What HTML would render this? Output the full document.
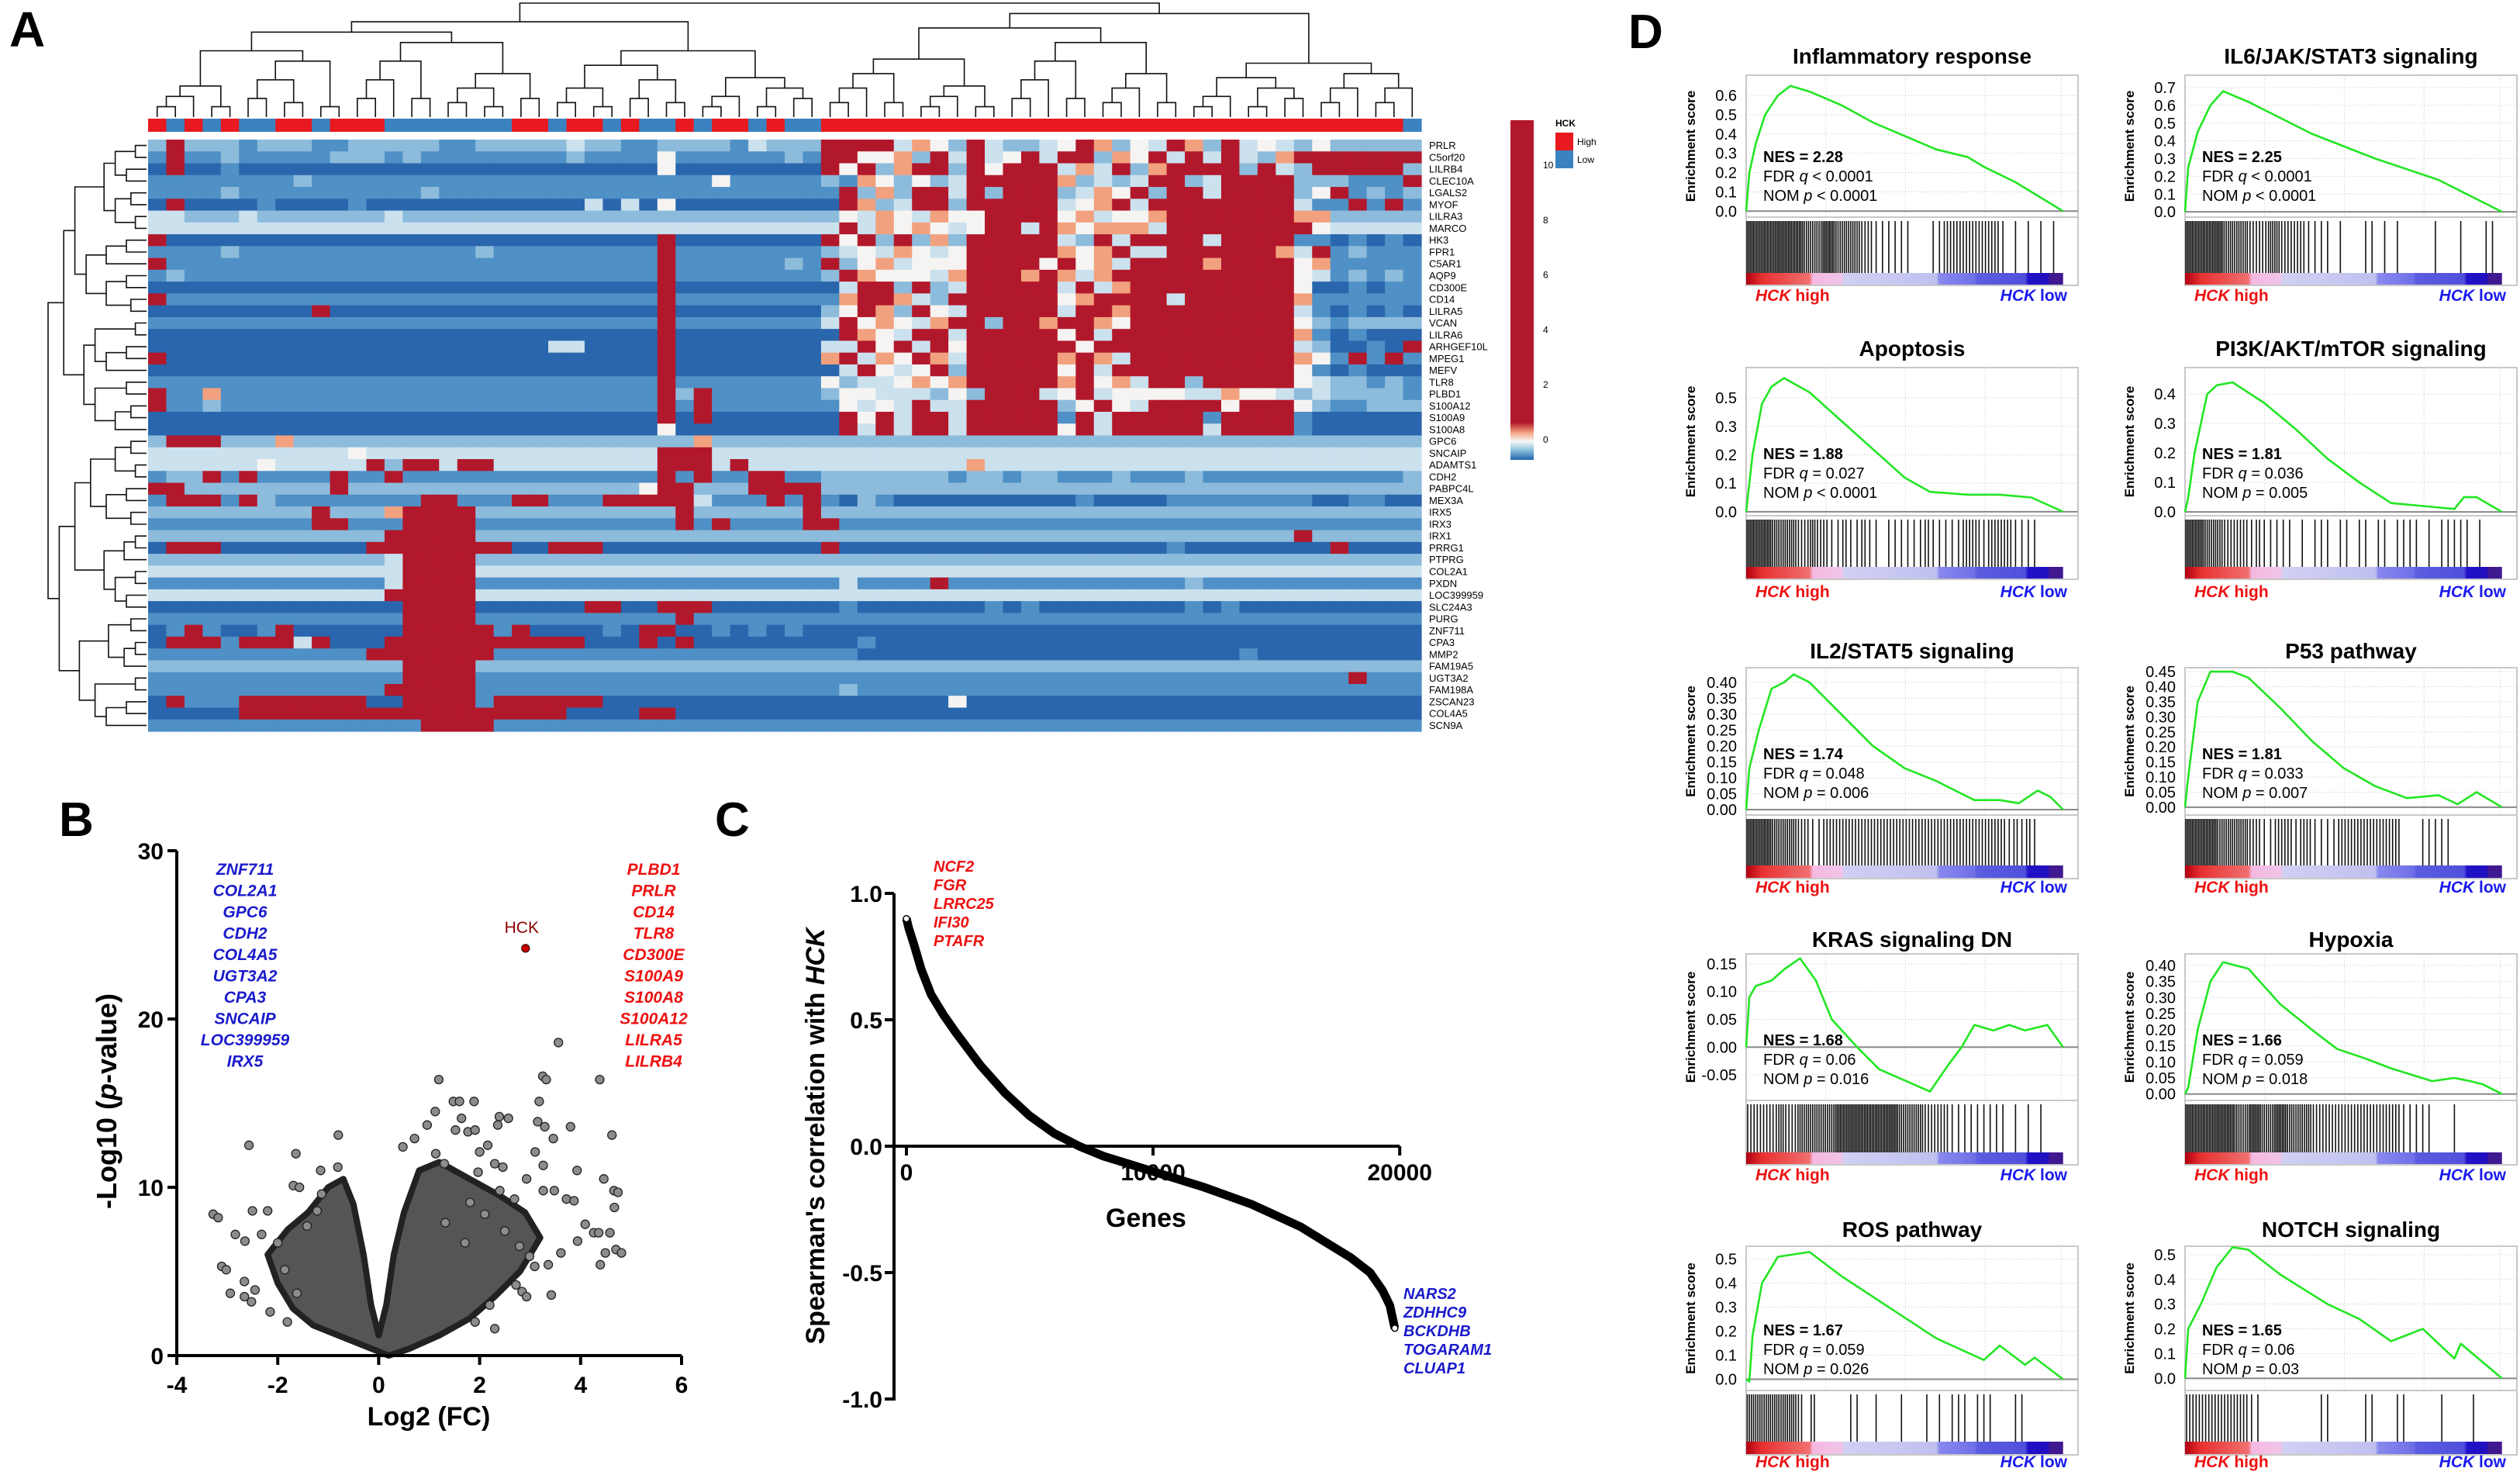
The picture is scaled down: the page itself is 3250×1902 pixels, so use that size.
<!DOCTYPE html>
<html><head><meta charset="utf-8"><title>HCK figure</title>
<style>
html,body{margin:0;padding:0;background:#fff;}
svg{display:block;font-family:"Liberation Sans",Arial,sans-serif;}
</style></head>
<body>
<svg id="fig" xmlns="http://www.w3.org/2000/svg" width="3250" height="1902" viewBox="0 0 3250 1902">
<rect x="0" y="0" width="3250" height="1902" fill="#fff"/>
<text x="12" y="60" font-size="64" font-weight="bold">A</text>
<text x="76" y="1078" font-size="62" font-weight="bold">B</text>
<text x="922" y="1078" font-size="62" font-weight="bold">C</text>
<text x="2100" y="62" font-size="62" font-weight="bold">D</text>
</svg>
<script>
// ================= PANEL A DATA =================
const geneRows = ["PRLR","C5orf20","LILRB4","CLEC10A","LGALS2","MYOF","LILRA3","MARCO","HK3","FPR1","C5AR1","AQP9","CD300E","CD14","LILRA5","VCAN","LILRA6","ARHGEF10L","MPEG1","MEFV","TLR8","PLBD1","S100A12","S100A9","S100A8","GPC6","SNCAIP","ADAMTS1","CDH2","PABPC4L","MEX3A","IRX5","IRX3","IRX1","PRRG1","PTPRG","COL2A1","PXDN","LOC399959","SLC24A3","PURG","ZNF711","CPA3","MMP2","FAM19A5","UGT3A2","FAM198A","ZSCAN23","COL4A5","SCN9A"];
const heatLeft = [
"2622212221122222112222232211222213222","1611211111222121111111121111411111121","0600100000000000000000000000400000000","1111111121111111111111111111111411111","1111211111111112111111111111111111111","0600001000010000000000003030400000000","3322232222222322222222222222222222222","3333333333333333333333333333333333333","6000000000000000000000000000600000000","1111211111111111112111111111611111111","6111111111111111111111111111611111121","1211111111111111111111111111611111111","0000000000000000000000000000600000000","6111111111111111111111111111611111111","0000000006000000000000000000600000000","1111111111111111111111111111611111111","0000000000000000000000000000600000000","0000000000000000000000330000600000000","6000000000000000000000000000600000000","0000000000000000000000000000600000000","1111111111111111111111111111611111111","6115111111111111111111111111626111111","6112111111111111111111111111616111111","0000000000000000000000000000606000000","0000000000000000000000000000400000000",
"2666222522222222222222222222225222222","3333333333343333333333333333666333333","3333334333336266366333333333666363333","1226161111611611111111111111616116611","6622222222622222222222222224662226666","1666162111111116611166111666663111616","2222222226222566662222222222262222226","1111111116611166661111111111161611116","2222222222222666662222222222222222222","0666000000006666666600666000000000000","2222222222222366662222222222222222222","3333333333333366663333333333333333333","1111111111111366661111111111111111111","3333333333333666663333333333333333333","0000000000000066660000006600666000000","1111111111111166661111111111161111111","0161001600000066666160000106600101010","0666166636000666666666660006060000000","1111111111116666666111111111111111111","2222222222222266662222222222222222222","1111111111111166661111111111111111111","1111111111111666661111111111111111111","0611166666660066661666666000000000000","0000066666666666666666600006600000000","1111111111111116666111111111111111111"];
const heatRight = [
"666635426322346524365263432422222","664452636346366254636363256666666","646256626466635362566662632666662","215424236666652323662366662221116","162526636266623546266366662461212","065236626666634563666666663116161","243543544666645344566666665522222","363545434663654555366666666433333","646262526666632636666366661101010","234354346666654563366666653612111","624534446666464536666566664511111","265444356665653566666666664312121","036626236666636356666666664001011","156653266666645666636666665111111","246526436666636656666666663101010","364543566266566546666666664212222","065436636666646366666666665101000","336463646666664666666666663200106","563546536666656536666666665416161","036434626666646366666666664101000","423345456666656453662666664322121","244333242666346344443354432322221","143436336666624643666646664211222","064636636666616366666166661000000","063636636666646366666366661000000",
"222222222222222222222222222222222","333333333333333333333333333333333","333333335333333333333333333333333","222222212212211121112111111111112","222222222222222222222222222222222","102100000000001000011111111001100","222222222222222222222222222222222","611111111111111111111111111111111","222222222222222222222222226222222","600000000000000000010000000060000","222222222222222222222222222222222","333333333333333333333333333333333","131111611111111111112111111111111","333333333333333333333333333333333","010000000101000000001010000000000","111111111111111111111111111111111","000000000000000000000000000000000","001000000000000000000000000000000","110000000000000000000001000000000","222222222222222222222222222222222","111111111111111111111111111116111","121111111111111111111111111111111","000000040000000000000000000000000","000000000000000000000000000000000","111111111111111111111111111111111"];
const sampleGroup = "rbrbrbbrrbrrrbbbbbbbrrbrrbrbbrbrrbrbb" + "rrrrrrrrrrrrrrrrrrrrrrrrrrrrrrrrb";
const colorbarTicks = [0,2,4,6,8,10];

// ================= PANEL B DATA =================
const volcanoFC = [2.91,3.56,3.25,3.32,4.38,1.19,1.48,1.6,1.89,3.18,1.12,2.39,2.57,1.64,0.96,3.15,3.29,2.36,1.52,1.77,1.91,3.8,4.62,3.46,-0.8,-2.57,-1.64,0.71,0.48,2.0,2.16,3.1,1.13,1.3,2.3,2.46,3.26,3.93,1.97,-1.15,-0.81,4.46,2.93,-1.69,-1.57,4.66,4.74,3.26,3.48,3.72,3.87,4.67,2.69,-3.28,-3.18,-2.5,-2.2,-2.84,-2.32,-2.65,4.09,4.26,4.36,4.58,3.94,4.7,4.81,4.49,4.39,3.61,3.36,3.42,-3.11,-3.02,-2.66,-2.45,-2.94,-2.66,-2.52,-2.15,2.3,2.72,2.84,2.93,1.91,2.2,2.79,2.99,3.09,2.5,1.71,1.32,2.1,1.81,2.4,-2.0,-1.86,-1.62,-1.81,-1.42,-1.22,-1.13];
const volcanoP = [24.2,18.6,16.6,16.4,16.4,16.4,15.1,15.1,15.1,15.1,14.5,14.2,14.1,14.1,13.7,13.9,13.6,13.7,13.4,13.3,13.4,13.6,13.1,12.9,13.1,12.5,12.0,12.9,12.4,12.1,12.5,12.1,12.0,11.4,11.4,11.2,11.3,11.0,10.9,11.0,11.2,10.5,10.5,10.1,10.0,9.8,9.7,9.8,9.8,9.3,9.2,8.8,9.3,8.4,8.2,8.6,8.6,7.2,7.2,6.8,7.8,7.3,7.3,7.3,6.8,6.3,6.1,6.1,5.4,6.1,5.4,3.6,5.3,5.1,4.4,3.9,3.7,3.5,3.2,2.6,1.6,4.2,3.8,3.5,2.0,3.0,6.5,5.9,5.3,7.4,6.7,7.9,8.4,9.1,9.8,6.7,5.1,3.7,2.0,7.7,8.6,9.6];
const coreFC = [0.2,-0.3,-0.8,-1.3,-1.7,-2.0,-2.2,-1.8,-1.4,-1.0,-0.7,-0.5,-0.3,-0.15,0,0.15,0.3,0.5,0.8,1.2,1.8,2.4,2.9,3.2,2.8,2.3,1.8,1.2,0.6];
const coreP = [0,0.6,1.2,1.8,2.8,4.3,6,7.5,8.5,10,10.5,9,6,3,1.2,3,6,8.5,11,11.5,10.5,9.5,8.5,7,5,3.5,2.2,1.2,0.4];
const hckIndex = 0;
const upGenes = ["PLBD1","PRLR","CD14","TLR8","CD300E","S100A9","S100A8","S100A12","LILRA5","LILRB4"];
const downGenes = ["ZNF711","COL2A1","GPC6","CDH2","COL4A5","UGT3A2","CPA3","SNCAIP","LOC399959","IRX5"];
const volcanoXTicks = [-4,-2,0,2,4,6];
const volcanoYTicks = [0,10,20,30];

// ================= PANEL C DATA =================
const rankK = [0,0.1,0.3,0.6,1,1.5,2,3,4,5,6,7,8,9,10,12,14,16,17,18,18.8,19.3,19.6,19.8];
const rho = [0.9,0.86,0.8,0.7,0.6,0.52,0.45,0.32,0.21,0.12,0.05,0.0,-0.04,-0.07,-0.1,-0.16,-0.23,-0.32,-0.38,-0.44,-0.5,-0.57,-0.63,-0.72];
const corrUp = ["NCF2","FGR","LRRC25","IFI30","PTAFR"];
const corrDown = ["NARS2","ZDHHC9","BCKDHB","TOGARAM1","CLUAP1"];
const corrYTicks = [-1.0,-0.5,0.0,0.5,1.0];
const corrXTicks = [0,10000,20000];

// ================= PANEL D DATA =================
const gseaTitles = ["Inflammatory response","IL6/JAK/STAT3 signaling","Apoptosis","PI3K/AKT/mTOR signaling","IL2/STAT5 signaling","P53 pathway","KRAS signaling DN","Hypoxia","ROS pathway","NOTCH signaling"];
const gseaNES = ["2.28","2.25","1.88","1.81","1.74","1.81","1.68","1.66","1.67","1.65"];
const gseaFDR = ["< 0.0001","< 0.0001","= 0.027","= 0.036","= 0.048","= 0.033","= 0.06","= 0.059","= 0.059","= 0.06"];
const gseaNOM = ["< 0.0001","< 0.0001","< 0.0001","= 0.005","= 0.006","= 0.007","= 0.016","= 0.018","= 0.026","= 0.03"];
const gseaDomain = [[-0.031,0.705],[-0.03,0.77],[-0.014,0.507],[-0.013,0.49],[-0.017,0.446],[-0.026,0.463],[-0.096,0.168],[-0.02,0.436],[-0.047,0.554],[-0.049,0.534]];
const gseaTickVals = [[0,0.1,0.2,0.3,0.4,0.5,0.6],[0,0.1,0.2,0.3,0.4,0.5,0.6,0.7],[0,0.1,0.2,0.3,0.4],[0,0.1,0.2,0.3,0.4],[0,0.05,0.1,0.15,0.2,0.25,0.3,0.35,0.4],[0,0.05,0.1,0.15,0.2,0.25,0.3,0.35,0.4,0.45],[-0.05,0,0.05,0.1,0.15],[0,0.05,0.1,0.15,0.2,0.25,0.3,0.35,0.4],[0,0.1,0.2,0.3,0.4,0.5],[0,0.1,0.2,0.3,0.4,0.5]];
const gseaTickLabels = [["0.0","0.1","0.2","0.3","0.4","0.5","0.6"],["0.0","0.1","0.2","0.3","0.4","0.5","0.6","0.7"],["0.0","0.1","0.2","0.3","0.5"],["0.0","0.1","0.2","0.3","0.4"],["0.00","0.05","0.10","0.15","0.20","0.25","0.30","0.35","0.40"],["0.00","0.05","0.10","0.15","0.20","0.25","0.30","0.35","0.40","0.45"],["-0.05","0.00","0.05","0.10","0.15"],["0.00","0.05","0.10","0.15","0.20","0.25","0.30","0.35","0.40"],["0.0","0.1","0.2","0.3","0.4","0.5"],["0.0","0.1","0.2","0.3","0.4","0.5"]];
const gseaX = [
[0,0.01,0.03,0.06,0.1,0.14,0.2,0.3,0.4,0.5,0.6,0.65,0.7,0.75,0.85,0.92,1],
[0,0.01,0.04,0.08,0.12,0.2,0.3,0.4,0.5,0.6,0.7,0.8,0.9,1],
[0,0.02,0.05,0.08,0.12,0.2,0.3,0.4,0.5,0.58,0.7,0.8,0.9,1],
[0,0.01,0.03,0.07,0.1,0.15,0.25,0.35,0.45,0.55,0.65,0.75,0.85,0.88,0.92,1],
[0,0.01,0.04,0.08,0.12,0.15,0.2,0.3,0.4,0.5,0.6,0.72,0.8,0.86,0.92,0.96,1],
[0,0.01,0.04,0.08,0.15,0.2,0.3,0.4,0.5,0.6,0.7,0.8,0.86,0.92,1],
[0,0.01,0.03,0.08,0.12,0.17,0.22,0.27,0.35,0.42,0.5,0.58,0.64,0.68,0.72,0.78,0.83,0.88,0.95,1],
[0,0.01,0.04,0.08,0.12,0.2,0.3,0.4,0.48,0.57,0.65,0.78,0.85,0.9,0.94,1],
[0,0.01,0.02,0.05,0.1,0.2,0.3,0.45,0.6,0.75,0.8,0.88,0.91,1],
[0,0.01,0.05,0.1,0.15,0.2,0.3,0.45,0.55,0.65,0.75,0.85,0.87,1]];
const gseaES = [
[0,0.2,0.35,0.5,0.6,0.65,0.62,0.55,0.46,0.39,0.32,0.3,0.28,0.23,0.15,0.08,0],
[0,0.25,0.45,0.6,0.68,0.62,0.53,0.44,0.37,0.3,0.24,0.18,0.09,0],
[0,0.2,0.38,0.44,0.47,0.42,0.32,0.22,0.12,0.07,0.06,0.06,0.05,0],
[0,0.05,0.2,0.4,0.43,0.44,0.37,0.28,0.18,0.1,0.03,0.02,0.01,0.05,0.05,0],
[0,0.13,0.25,0.38,0.4,0.425,0.4,0.3,0.2,0.13,0.09,0.03,0.03,0.02,0.06,0.04,0],
[0,0.1,0.35,0.45,0.45,0.43,0.33,0.22,0.13,0.07,0.03,0.04,0.01,0.05,0],
[0,0.09,0.11,0.12,0.14,0.16,0.12,0.05,0,-0.04,-0.06,-0.08,-0.03,0,0.04,0.03,0.04,0.03,0.04,0],
[0,0.02,0.2,0.35,0.41,0.39,0.28,0.2,0.14,0.11,0.08,0.04,0.05,0.04,0.03,0],
[0,-0.01,0.18,0.4,0.51,0.53,0.43,0.3,0.17,0.08,0.14,0.06,0.09,0],
[0,0.2,0.3,0.45,0.53,0.52,0.42,0.3,0.24,0.15,0.2,0.08,0.14,0]];
const gseaHits = ["44444444433344333322111111000112222222221010101010","44444433332223322221111010001101010000010001000110","44443333223221121121101111112111112221222211110000","44433322221211111010111011011011011110101111101000","44443333221122222222222222222222222222222121210000","44444333332211222122111122222222220001111100000000","22222322333333444444444433332222111111111010101000","44444444334433443333222222222222221111100010000000","33333333202000001100100010001010111011100011000000","22222222221100000000011000001100011000001000010000"];

// ================= HELPERS =================
const NS = "http://www.w3.org/2000/svg";
const svg = document.getElementById('fig');
function mk(tag, attrs, parent){ const e=document.createElementNS(NS,tag); for(const k in attrs) e.setAttribute(k,attrs[k]); (parent||svg).appendChild(e); return e; }
function grp(parent){ return mk('g',{},parent); }

// ================= PANEL A =================
const hmX0=191, hmX1=1833, hmY0=180, hmY1=943;
const nCols = 70, nRows = geneRows.length;
const cw=(hmX1-hmX0)/nCols, rh=(hmY1-hmY0)/nRows;
const heatColors=['#2a66ad','#4f90c6','#8dbbdb','#cbe1ee','#f6f4f2','#f2a17f','#b2182b'];
const gA = grp();  
function rowStr(i){ const L=(heatLeft[i]+heatLeft[i][0].repeat(40)).slice(0,37); const R=(heatRight[i]+heatRight[i][0].repeat(40)).slice(0,33); return L+R; }
for(let i=0;i<nRows;i++){
  const s=rowStr(i);
  for(let j=0;j<nCols;j++){
    const c=mk('rect',{x:(hmX0+j*cw).toFixed(2),y:(hmY0+i*rh).toFixed(2),width:(cw+0.6).toFixed(2),height:(rh+0.6).toFixed(2),fill:heatColors[+s[j]]},gA);
    
    
  }
  const t=mk('text',{x:1843,y:(hmY0+(i+0.5)*rh+4.5).toFixed(1),'font-size':13},gA);
  t.textContent=geneRows[i];
  
  
}
for(let j=0;j<nCols;j++){
  const c=mk('rect',{x:(hmX0+j*cw).toFixed(2),y:153,width:(cw+0.6).toFixed(2),height:17,fill:sampleGroup[j]==='r'?'#e8191f':'#3b83c0'},gA);
  
  
}
const dendroG = grp();  
function buildTree(lo,hi,depth,first){
  if(hi-lo<=1) return {pos:lo+0.5,h:0};
  let mid;
  if(first!==undefined) mid=first; else { const f=(depth%3===0)?0.45:(depth%3===1?0.6:0.5); mid=lo+Math.max(1,Math.min(hi-lo-1,Math.round((hi-lo)*f))); }
  const a=buildTree(lo,mid,depth+1), b=buildTree(mid,hi,depth+1);
  const h=Math.max(a.h,b.h)+1+((lo*7+hi*3)%3)*0.4;
  return {pos:(a.pos+b.pos)/2,h:h,a:a,b:b};
}
function drawTree(node,maxH,toPix){
  if(!node.a) return;
  const pa=toPix(node.a.pos,node.a.h/maxH), pb=toPix(node.b.pos,node.b.h/maxH), pn=toPix(node.a.pos,node.h/maxH), pn2=toPix(node.b.pos,node.h/maxH);
  const d=`M${pa[0]},${pa[1]}L${pn[0]},${pn[1]}L${pn2[0]},${pn2[1]}L${pb[0]},${pb[1]}`;
  const p=mk('path',{d:d,fill:'none',stroke:'#111','stroke-width':1.6},dendroG);
  
  
  drawTree(node.a,maxH,toPix); drawTree(node.b,maxH,toPix);
}
const colTree=buildTree(0,nCols,0,37);
drawTree(colTree,colTree.h,(pos,f)=>[ (hmX0+pos*cw).toFixed(1), (151-f*147).toFixed(1)]);
const rowTree=buildTree(0,nRows,0,25);
drawTree(rowTree,rowTree.h,(pos,f)=>[ (189-f*127).toFixed(1), (hmY0+pos*rh).toFixed(1)]);
const defs=mk('defs',{});
const lg=mk('linearGradient',{id:'cbar',x1:0,y1:0,x2:0,y2:1},defs);
[['0','#b2182b'],['0.89','#b2182b'],['0.92','#f4a582'],['0.945','#f7f7f7'],['0.97','#92c5de'],['1','#2166ac']].forEach(s=>mk('stop',{offset:s[0],'stop-color':s[1]},lg));
const cb=mk('rect',{x:1948,y:155,width:30,height:438,fill:'url(#cbar)'});


const cbY=v=>567-v*35.4;
colorbarTicks.forEach(v=>{ const t=mk('text',{x:1990,y:(cbY(v)+4).toFixed(1),'font-size':12},svg); t.textContent=String(v);
    });
{
 const t=mk('text',{x:2006,y:163,'font-size':12,'font-weight':'bold'}); t.textContent='HCK';
  
 const r1=mk('rect',{x:2006,y:171,width:23,height:23,fill:'#e8191f'});  
 const r2=mk('rect',{x:2006,y:194,width:23,height:23,fill:'#3b83c0'});  
 const t1=mk('text',{x:2034,y:187,'font-size':12}); t1.textContent='High';  
 const t2=mk('text',{x:2034,y:210,'font-size':12}); t2.textContent='Low';  
}

// ================= PANEL B =================
const gB=grp();  
const bx=v=>228+(v+4)*65.1, by=v=>1748-v*21.7;
{
 const core=mk('polygon',{points:coreFC.map((v,i)=>bx(v).toFixed(1)+','+by(coreP[i]).toFixed(1)).join(' '),fill:'#555',stroke:'#222','stroke-width':8,'stroke-linejoin':'round'},gB);
 
 
}
volcanoFC.forEach((v,i)=>{ if(i===hckIndex) return;
 const c=mk('circle',{cx:bx(v).toFixed(1),cy:by(volcanoP[i]).toFixed(1),r:5.5,fill:'#8c8c8c',stroke:'#222','stroke-width':1.3},gB);
 
 
});
{
 const c=mk('circle',{cx:bx(volcanoFC[hckIndex]).toFixed(1),cy:by(volcanoP[hckIndex]).toFixed(1),r:5,fill:'#c00',stroke:'#400','stroke-width':1.3},gB);
  
 const t=mk('text',{x:(bx(volcanoFC[hckIndex])-5).toFixed(1),y:(by(volcanoP[hckIndex])-20).toFixed(1),'font-size':21,fill:'#8b0000','text-anchor':'middle'},gB);
 t.textContent='HCK';  
}
{
 const ax=mk('path',{d:`M228,${by(30)}L228,1748L${bx(6)},1748`,fill:'none',stroke:'#000','stroke-width':4},gB);
  
}
volcanoYTicks.forEach(v=>{ const l=mk('line',{x1:216,x2:228,y1:by(v),y2:by(v),stroke:'#000','stroke-width':4},gB);  
 const t=mk('text',{x:211,y:by(v)+11,'font-size':30,'font-weight':'bold','text-anchor':'end'},gB); t.textContent=String(v);   });
volcanoXTicks.forEach(v=>{ const l=mk('line',{x1:bx(v),x2:bx(v),y1:1748,y2:1760,stroke:'#000','stroke-width':4},gB);  
 const t=mk('text',{x:bx(v),y:1796,'font-size':30,'font-weight':'bold','text-anchor':'middle'},gB); t.textContent=String(v);   });
{
 const t=mk('text',{x:553,y:1838,'font-size':34,'font-weight':'bold','text-anchor':'middle'},gB); t.textContent='Log2 (FC)';  
 const yt=mk('text',{x:0,y:0,'font-size':36,'font-weight':'bold','text-anchor':'middle',transform:'translate(150,1420) rotate(-90)'},gB);
 yt.innerHTML='-Log10 (<tspan font-style="italic">p</tspan>-value)';
  
}
downGenes.forEach((g,i)=>{ const t=mk('text',{x:316,y:1128+i*27.5,'font-size':21,'font-weight':'bold','font-style':'italic',fill:'#1a1acc','text-anchor':'middle'},gB); t.textContent=g;   });
upGenes.forEach((g,i)=>{ const t=mk('text',{x:843,y:1128+i*27.5,'font-size':21,'font-weight':'bold','font-style':'italic',fill:'#ee1111','text-anchor':'middle'},gB); t.textContent=g;   });

// ================= PANEL C =================
const gC=grp();  
const cx=v=>1169+v*0.03181, cy=v=>1478-v*326;
{
 const ya=mk('line',{x1:1153,x2:1153,y1:cy(1),y2:cy(-1)+2,stroke:'#000','stroke-width':4},gC);  
 const xa=mk('line',{x1:1153,x2:cx(20000),y1:cy(0),y2:cy(0),stroke:'#000','stroke-width':4},gC);  
}
corrYTicks.forEach(v=>{ const l=mk('line',{x1:1141,x2:1153,y1:cy(v),y2:cy(v),stroke:'#000','stroke-width':4},gC);  
 const t=mk('text',{x:1138,y:cy(v)+11,'font-size':30,'font-weight':'bold','text-anchor':'end'},gC); t.textContent=v.toFixed(1);   });
corrXTicks.forEach(v=>{ const l=mk('line',{x1:cx(v),x2:cx(v),y1:cy(0),y2:cy(0)+12,stroke:'#000','stroke-width':4},gC);  
 const t=mk('text',{x:cx(v),y:cy(0)+44,'font-size':30,'font-weight':'bold','text-anchor':'middle'},gC); t.textContent=String(v);   });
{
 const p=mk('path',{d:rankK.map((k,i)=>(i?'L':'M')+cx(k*1000).toFixed(1)+','+cy(rho[i]).toFixed(1)).join(''),fill:'none',stroke:'#000','stroke-width':11,'stroke-linejoin':'round'},gC);
  
 [0,rankK.length-1].forEach(i=>{ const c=mk('circle',{cx:cx(rankK[i]*1000),cy:cy(rho[i]),r:4,fill:'#fff',stroke:'#000','stroke-width':1.5},gC);   });
 const t=mk('text',{x:1478,y:1582,'font-size':34,'font-weight':'bold','text-anchor':'middle'},gC); t.textContent='Genes';  
 const yt=mk('text',{x:0,y:0,'font-size':34,'font-weight':'bold','text-anchor':'middle',transform:'translate(1063,1465) rotate(-90)'},gC);
 yt.innerHTML="Spearman's correlation with <tspan font-style=\"italic\">HCK</tspan>";
  
}
corrUp.forEach((g,i)=>{ const t=mk('text',{x:1204,y:1124+i*24,'font-size':20,'font-weight':'bold','font-style':'italic',fill:'#ee1111'},gC); t.textContent=g;   });
corrDown.forEach((g,i)=>{ const t=mk('text',{x:1810,y:1675+i*24,'font-size':20,'font-weight':'bold','font-style':'italic',fill:'#1a1acc'},gC); t.textContent=g;   });

// ================= PANEL D =================
const colX=[2252,2818], rowT=[72,449,839,1211,1585], W=428;
// per-row layout offsets relative to title: [boxTop, esBottom, bandTop, bandBottom, labelBaseline]
const rowGeom=[[25,208,280,295,316],[25,216,282,297,321],[22,212,277,293,312],[19,208,275,290,311],[22,208,274,290,307]];
const bandG=mk('linearGradient',{id:'band',x1:0,y1:0,x2:1,y2:0},defs);
[['0','#b00010'],['0.05','#e83030'],['0.2','#f07070'],['0.21','#f4b8e0'],['0.3','#f2c4e8'],['0.31','#d0d0f4'],['0.6','#c0c0f0'],['0.61','#8888ee'],['0.72','#7070e8'],['0.73','#5c5ce0'],['0.88','#5050dc'],['0.89','#2010c8'],['0.95','#2010c0'],['0.96','#401890'],['1','#401890']].forEach(s=>mk('stop',{offset:s[0],'stop-color':s[1]},bandG));
for(let k=0;k<10;k++){
  const x0=colX[k%2], r=Math.floor(k/2), T=rowT[r], G=rowGeom[r];
  const g=grp();  
  const top=T+G[0], esBot=T+G[1], bandTop=T+G[2], bandBot=T+G[3];
  const dom=gseaDomain[k];
  const yv=v=>esBot-(v-dom[0])/(dom[1]-dom[0])*(esBot-top);
  const xv=f=>x0+f*0.955*W;
  const title=mk('text',{x:x0+W/2,y:T+10,'font-size':28,'font-weight':'bold','text-anchor':'middle'},g); title.textContent=gseaTitles[k];
   
  const box=mk('rect',{x:x0,y:top,width:W,height:bandBot+1-top,fill:'none',stroke:'#c8c8c8','stroke-width':2},g);
   
  [0.24,0.48,0.72,0.95].forEach(f=>{ const l=mk('line',{x1:x0+f*W,x2:x0+f*W,y1:top,y2:esBot,stroke:'#ddd','stroke-width':1,'stroke-dasharray':'2,2'},g);   });
  gseaTickVals[k].forEach((v,i)=>{
    const l=mk('line',{x1:x0,x2:x0+W,y1:yv(v),y2:yv(v),stroke:'#ddd','stroke-width':1,'stroke-dasharray':'2,2'},g);  
    const t=mk('text',{x:x0-12,y:yv(v)+7,'font-size':20,'text-anchor':'end'},g); t.textContent=gseaTickLabels[k][i];  
  });
  const zl=mk('line',{x1:x0,x2:x0+W,y1:yv(0),y2:yv(0),stroke:'#888','stroke-width':2},g);  
  const sep=mk('line',{x1:x0,x2:x0+W,y1:esBot,y2:esBot,stroke:'#c8c8c8','stroke-width':2},g);  
  const yl=mk('text',{x:0,y:0,'font-size':17,'font-weight':'bold','text-anchor':'middle',transform:`translate(${x0-66},${(top+esBot)/2}) rotate(-90)`},g); yl.textContent='Enrichment score';
   
  const hs=gseaHits[k]; const nb=hs.length;
  for(let b=0;b<nb;b++){ const n=+hs[b]; for(let m=0;m<n;m++){ const xx=xv((b+(m+0.5)/n)/nb);
    const l=mk('line',{x1:xx.toFixed(1),x2:xx.toFixed(1),y1:esBot+5,y2:bandTop,stroke:'#111','stroke-width':1.6},g);
      } }
  const band=mk('rect',{x:x0,y:bandTop,width:0.955*W,height:bandBot-bandTop,fill:'url(#band)'},g);
   
  const cur=mk('path',{d:gseaX[k].map((f,i)=>(i?'L':'M')+xv(f).toFixed(1)+','+yv(gseaES[k][i]).toFixed(1)).join(''),fill:'none',stroke:'#22e622','stroke-width':2.6,'stroke-linejoin':'round'},g);
   
  const tx=x0+22, ty=T+Math.round(G[1]*0.66);
  const t1=mk('text',{x:tx,y:ty,'font-size':20,'font-weight':'bold'},g); t1.textContent='NES = '+gseaNES[k];  
  const t2=mk('text',{x:tx,y:ty+25,'font-size':20},g); t2.innerHTML='FDR <tspan font-style="italic">q</tspan> '+gseaFDR[k].replace('<','&lt;');  
  const t3=mk('text',{x:tx,y:ty+50,'font-size':20},g); t3.innerHTML='NOM <tspan font-style="italic">p</tspan> '+gseaNOM[k].replace('<','&lt;');  
  const hh=mk('text',{x:x0+12,y:T+G[4],'font-size':21,'font-weight':'bold',fill:'#ee1111'},g); hh.innerHTML='<tspan font-style="italic">HCK</tspan> high';  
  const hl=mk('text',{x:x0+W-14,y:T+G[4],'font-size':21,'font-weight':'bold',fill:'#1a1aee','text-anchor':'end'},g); hl.innerHTML='<tspan font-style="italic">HCK</tspan> low';  
}
</script>
</body></html>
